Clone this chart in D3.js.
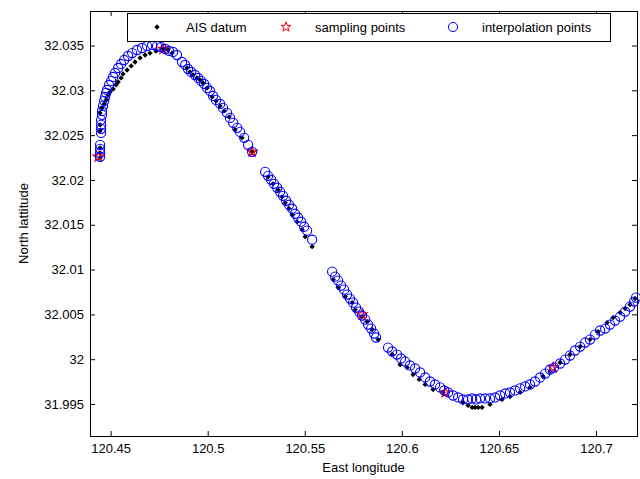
<!DOCTYPE html>
<html>
<head>
<meta charset="utf-8">
<script src="https://cdn.jsdelivr.net/npm/d3@7"></script>
<style>
  body { margin: 0; background: #fff; }
  text { font-family: "Liberation Sans", Arial, sans-serif; font-size: 13px; fill: #000; }
</style>
</head>
<body>
<div id="container"></div>
<script>
var W = 640, H = 479;
var margin = {top: 11, right: 3, bottom: 43, left: 90};

// AIS datum (black)
var aisLon = [120.4446,120.4446,120.4446,120.4446,120.4446,120.4446,120.4456,120.4467,120.4477,120.4487,
  120.4497,120.4513,120.4528,120.4539,120.4554,120.4564,120.4585,120.4606,120.4626,120.4652,
  120.4678,120.4703,120.4734,120.4770,120.4796,120.4817,120.4894,120.4909,120.4925,120.4945,
  120.4961,120.4976,120.4997,120.5023,120.5043,120.5064,120.5085,120.5110,120.5141,120.5177,
  120.5229,120.5311,120.5337,120.5363,120.5383,120.5399,120.5419,120.5435,120.5460,120.5486,
  120.5502,120.5538,120.5646,120.5672,120.5708,120.5744,120.5759,120.5795,120.5821,120.5847,
  120.5878,120.5950,120.5991,120.6027,120.6058,120.6089,120.6120,120.6161,120.6212,120.6315,
  120.6341,120.6362,120.6377,120.6393,120.6413,120.6454,120.6516,120.6557,120.6609,120.6660,
  120.6727,120.6763,120.6815,120.6866,120.6918,120.6969,120.7011,120.7057,120.7088,120.7124,
  120.7150,120.7175,120.7201];
var aisLat = [32.02247,32.02302,32.02358,32.02548,32.02614,32.02748,32.02804,32.02848,32.02893,32.02949,
  32.02982,32.03015,32.03060,32.03093,32.03138,32.03183,32.03227,32.03272,32.03316,32.03361,
  32.03394,32.03416,32.03439,32.03461,32.03450,32.03416,32.03249,32.03205,32.03171,32.03138,
  32.03116,32.03082,32.03027,32.02926,32.02882,32.02826,32.02770,32.02703,32.02559,32.02470,
  32.02314,32.02035,32.01957,32.01890,32.01812,32.01745,32.01679,32.01612,32.01534,32.01445,
  32.01367,32.01255,32.00888,32.00799,32.00698,32.00631,32.00553,32.00475,32.00420,32.00331,
  32.00219,32.00052,31.99941,31.99907,31.99829,31.99774,31.99718,31.99662,31.99629,31.99517,
  31.99484,31.99462,31.99462,31.99462,31.99462,31.99495,31.99551,31.99584,31.99629,31.99685,
  31.99807,31.99863,31.99963,32.00052,32.00141,32.00219,32.00308,32.00409,32.00464,32.00520,
  32.00565,32.00609,32.00676];

// sampling points (red stars)
var sampleLon = [120.4436, 120.4770, 120.5229, 120.5795, 120.6223, 120.6779];
var sampleLat = [32.02258, 32.03461, 32.02314, 32.00498, 31.99629, 31.99907];

// interpolation points (blue circles)
var interpLon = [120.4446,120.4446,120.4446,120.4446,120.4451,120.4451,120.4451,120.4451,120.4456,120.4456,
  120.4461,120.4467,120.4472,120.4477,120.4482,120.4492,120.4503,120.4513,120.4523,120.4539,
  120.4554,120.4570,120.4590,120.4611,120.4636,120.4662,120.4688,120.4714,120.4739,120.4760,
  120.4781,120.4801,120.4822,120.4842,120.4868,120.4884,120.4899,120.4915,120.4935,120.4951,
  120.4966,120.4982,120.4997,120.5012,120.5028,120.5043,120.5064,120.5079,120.5100,120.5115,
  120.5131,120.5152,120.5167,120.5188,120.5208,120.5229,
  120.5296,120.5311,120.5327,120.5342,120.5358,120.5373,120.5388,120.5404,120.5419,120.5435,
  120.5450,120.5466,120.5481,120.5497,120.5512,120.5538,
  120.5641,120.5656,120.5672,120.5687,120.5703,120.5718,120.5733,120.5749,120.5764,120.5780,
  120.5795,120.5811,120.5826,120.5842,120.5857,120.5867,
  120.5929,120.5950,120.5975,120.5996,120.6017,120.6042,120.6068,120.6094,120.6120,120.6145,
  120.6171,120.6197,120.6218,120.6238,120.6264,120.6290,120.6315,120.6341,120.6362,120.6382,
  120.6403,120.6429,120.6454,120.6480,120.6506,120.6532,120.6557,120.6583,120.6609,120.6635,
  120.6660,120.6686,120.6712,120.6738,120.6763,120.6784,120.6815,120.6841,120.6866,120.6892,
  120.6918,120.6944,120.6969,120.6995,120.7021,120.7047,120.7072,120.7098,120.7124,120.7150,
  120.7175,120.7196,120.7206];
var interpLat = [32.02258,32.02302,32.02347,32.02392,32.02525,32.02570,32.02614,32.02670,32.02726,32.02770,
  32.02826,32.02882,32.02926,32.02971,32.03004,32.03060,32.03105,32.03149,32.03194,32.03249,
  32.03294,32.03338,32.03383,32.03416,32.03450,32.03472,32.03494,32.03506,32.03494,32.03483,
  32.03461,32.03439,32.03428,32.03394,32.03316,32.03283,32.03238,32.03205,32.03171,32.03138,
  32.03105,32.03071,32.03027,32.02993,32.02937,32.02893,32.02848,32.02804,32.02748,32.02692,
  32.02637,32.02581,32.02536,32.02470,32.02392,32.02314,
  32.02091,32.02046,32.02002,32.01957,32.01913,32.01868,32.01823,32.01768,32.01723,32.01679,
  32.01623,32.01578,32.01534,32.01478,32.01434,32.01333,
  32.00977,32.00921,32.00877,32.00821,32.00776,32.00721,32.00676,32.00631,32.00576,32.00531,
  32.00487,32.00442,32.00386,32.00342,32.00286,32.00242,
  32.00130,32.00086,32.00052,32.00008,31.99974,31.99930,31.99896,31.99852,31.99796,31.99751,
  31.99718,31.99685,31.99651,31.99629,31.99595,31.99573,31.99551,31.99551,31.99562,31.99551,
  31.99562,31.99562,31.99562,31.99573,31.99595,31.99618,31.99629,31.99651,31.99674,31.99696,
  31.99718,31.99751,31.99796,31.99840,31.99885,31.99907,31.99952,31.99996,32.00041,32.00097,
  32.00141,32.00186,32.00219,32.00275,32.00320,32.00342,32.00386,32.00431,32.00475,32.00531,
  32.00587,32.00643,32.00687];

var xTicks = [120.45, 120.5, 120.55, 120.6, 120.65, 120.7];
var xTickLabels = ["120.45", "120.5", "120.55", "120.6", "120.65", "120.7"];
var yTicks = [31.995, 32, 32.005, 32.01, 32.015, 32.02, 32.025, 32.03, 32.035];
var yTickLabels = ["31.995", "32", "32.005", "32.01", "32.015", "32.02", "32.025", "32.03", "32.035"];

var legendLabels = ["AIS datum", "sampling points", "interpolation points"];

var width = W - margin.left - margin.right,
    height = H - margin.top - margin.bottom;

var svg = d3.select("#container").append("svg")
    .attr("width", W)
    .attr("height", H);

var x = d3.scaleLinear().domain([120.4394, 120.7211]).range([0, width]);
var y = d3.scaleLinear().domain([31.99143, 32.03885]).range([height, 0]);

var g = svg.append("g")
    .attr("transform", "translate(" + margin.left + "," + margin.top + ")");

// axes, ticks pointing inward like matlab
function fmt(ticks, labels) {
  return function(d) { return labels[ticks.indexOf(d)]; };
}

var xAxis = d3.axisBottom(x).tickValues(xTicks).tickFormat(fmt(xTicks, xTickLabels))
    .tickSizeInner(-5).tickSizeOuter(0).tickPadding(8);
var yAxis = d3.axisLeft(y).tickValues(yTicks).tickFormat(fmt(yTicks, yTickLabels))
    .tickSizeInner(-5).tickSizeOuter(0).tickPadding(6);

g.append("g").attr("class", "axis")
    .attr("transform", "translate(0," + height + ")")
    .call(xAxis);
g.append("g").attr("class", "axis")
    .call(yAxis);
g.append("g").attr("class", "axis")
    .call(d3.axisTop(x).tickValues(xTicks).tickFormat("").tickSizeInner(-5).tickSizeOuter(0));
g.append("g").attr("class", "axis")
    .attr("transform", "translate(" + width + ",0)")
    .call(d3.axisRight(y).tickValues(yTicks).tickFormat("").tickSizeInner(-5).tickSizeOuter(0));

g.selectAll(".axis path").remove();
g.selectAll(".axis line").attr("stroke", "#000");
g.selectAll(".axis text")
  .style("font-family", "'Liberation Sans', Arial, sans-serif")
  .style("font-size", "13px")
  .attr("fill", "#000");

g.append("rect")
    .attr("width", width)
    .attr("height", height)
    .attr("fill", "none")
    .attr("stroke", "#000")
    .attr("stroke-width", 1)
    .attr("shape-rendering", "crispEdges");

// data
var ais = aisLon.map(function(d, i) { return [d, aisLat[i]]; });
var samples = sampleLon.map(function(d, i) { return [d, sampleLat[i]]; });
var interp = interpLon.map(function(d, i) { return [d, interpLat[i]]; });

var dot = d3.symbol().type(d3.symbolDiamond2).size(18);
var star = d3.symbol().type(d3.symbolStar).size(30);

g.append("g").selectAll("path")
    .data(ais).enter().append("path")
    .attr("d", dot)
    .attr("transform", function(d) { return "translate(" + x(d[0]) + "," + y(d[1]) + ")"; })
    .attr("fill", "#000");

g.append("g").selectAll("path")
    .data(samples).enter().append("path")
    .attr("d", star)
    .attr("transform", function(d) { return "translate(" + x(d[0]) + "," + y(d[1]) + ")"; })
    .attr("fill", "none")
    .attr("stroke", "#ff0000")
    .attr("stroke-width", 1.2);

g.append("g").selectAll("circle")
    .data(interp).enter().append("circle")
    .attr("cx", function(d) { return x(d[0]); })
    .attr("cy", function(d) { return y(d[1]); })
    .attr("r", 4.6)
    .attr("fill", "none")
    .attr("stroke", "#0000ff")
    .attr("stroke-width", 1.1);

// labels
svg.append("text")
    .attr("x", margin.left + width / 2)
    .attr("y", 472)
    .attr("text-anchor", "middle")
    .text("East longitude");

svg.append("text")
    .attr("transform", "translate(28," + (margin.top + height / 2) + ") rotate(-90)")
    .attr("text-anchor", "middle")
    .text("North lattitude");

// legend
var leg = svg.append("g").attr("transform", "translate(127,13)");
leg.append("rect")
    .attr("width", 483)
    .attr("height", 28)
    .attr("fill", "#fff")
    .attr("stroke", "#000")
    .attr("shape-rendering", "crispEdges");

var legX = [30, 159, 326];
var items = leg.selectAll(".item")
    .data(legendLabels).enter().append("g")
    .attr("transform", function(d, i) { return "translate(" + legX[i] + ",14)"; });

items.append("text")
    .attr("x", 29)
    .attr("dy", "0.35em")
    .text(function(d) { return d; });

items.filter(function(d, i) { return i == 0; }).append("path")
    .attr("d", dot).attr("fill", "#000");
items.filter(function(d, i) { return i == 1; }).append("path")
    .attr("d", star).attr("fill", "none").attr("stroke", "#ff0000");
items.filter(function(d, i) { return i == 2; }).append("circle")
    .attr("r", 4.6).attr("fill", "none").attr("stroke", "#0000ff");
</script>
</body>
</html>
